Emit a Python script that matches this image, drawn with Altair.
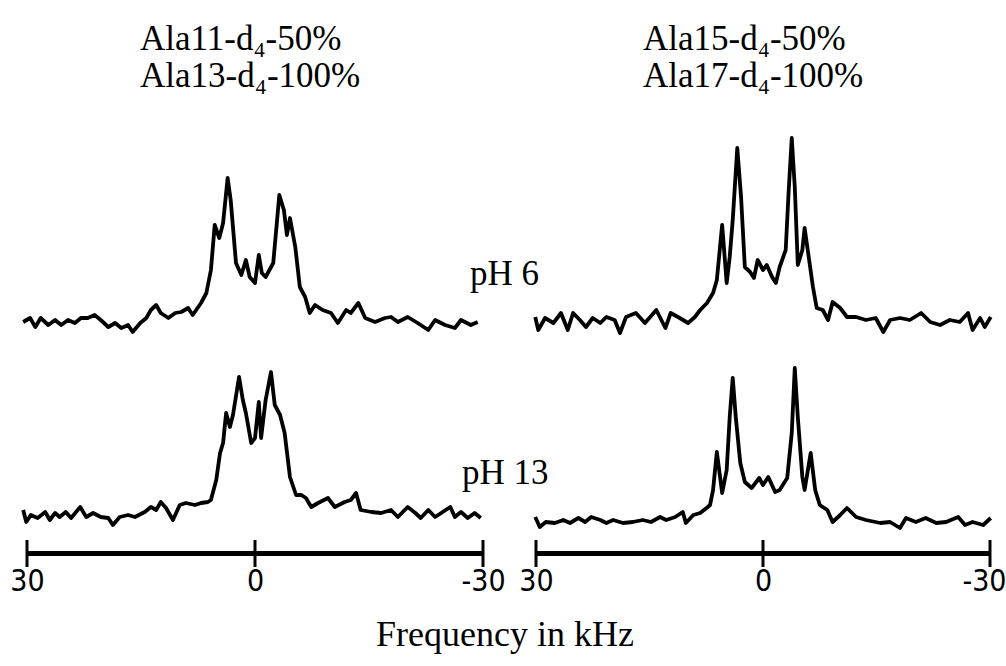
import altair as alt
import pandas as pd

# ---------------- data ----------------
TICKS = [30, 0, -30]

COL_TITLES = [["Ala11-d₄-50%", "Ala13-d₄-100%"],
              ["Ala15-d₄-50%", "Ala17-d₄-100%"]]
ROW_LABELS = ["pH 6", "pH 13"]
X_TITLE = "Frequency in kHz"

# left column, pH 6
L6_FREQ = [30.5, 29.6, 28.9, 28.2, 27.2, 26.3, 25.5, 24.6, 23.7, 22.9, 22.0, 21.1, 20.3, 19.3, 18.4,
           17.6, 16.7, 16.1, 15.1, 14.3, 13.7, 13.0, 12.4, 11.4, 10.5, 9.7, 8.8, 8.2, 7.1, 6.4,
           5.8, 5.3, 4.7, 4.2, 3.6, 3.2, 2.5, 1.8, 1.2, 0.7, 0.0, -0.5, -0.9, -1.4, -2.4,
           -3.2, -3.8, -4.2, -4.6, -5.3, -5.9, -6.6, -7.2, -7.9, -8.9, -10.0, -10.9, -12.0, -12.6, -13.6,
           -14.5, -15.8, -17.1, -17.9, -18.8, -20.1, -21.4, -22.8, -23.7, -25.0, -26.3, -27.1, -28.4, -29.3]
L6_INT = [0, 4, -5, 4, -3, 2, -3, 2, -1, 4, 4, 7, 2, -5, -1,
          -6, -3, -10, -1, 4, 12, 17, 9, 4, 9, 10, 14, 7, 19, 29,
          52, 97, 84, 99, 144, 122, 59, 47, 62, 45, 39, 67, 49, 45, 59,
          127, 112, 87, 104, 75, 35, 25, 9, 17, 12, 9, -1, 12, 9, 19,
          4, 0, 4, 5, 0, 5, -1, -8, 2, -3, -6, 2, -3, 0]

# left column, pH 13
L13_FREQ = [30.5, 30.1, 29.5, 28.6, 27.6, 27.0, 26.3, 25.7, 24.9, 24.2, 23.0, 22.2, 21.3, 20.3, 19.3,
            18.7, 17.8, 16.7, 15.8, 14.5, 13.7, 13.0, 12.4, 11.7, 10.8, 9.9, 9.1, 7.9, 7.1, 6.2,
            5.8, 5.1, 4.6, 4.2, 3.8, 3.3, 2.9, 2.1, 1.6, 1.2, 0.5, 0.0, -0.5, -0.8, -1.4,
            -2.1, -2.6, -3.3, -3.9, -4.6, -5.4, -6.1, -6.7, -7.4, -8.3, -9.6, -10.5, -11.8, -12.6, -13.3,
            -13.9, -15.3, -16.6, -17.9, -18.8, -20.1, -21.1, -21.8, -22.8, -23.7, -24.5, -25.7, -26.3, -27.1, -28.0,
            -28.9, -29.7]
L13_INT = [7, -5, 2, -1, 5, -3, 4, 0, 5, -1, 10, 0, 4, 0, -1,
           -8, 0, 2, 0, 5, 10, 7, 15, 9, -3, 12, 14, 12, 14, 15,
           17, 37, 64, 74, 104, 90, 102, 140, 117, 104, 74, 79, 115, 79, 117,
           145, 112, 102, 84, 40, 22, 22, 19, 10, 14, 19, 10, 15, 17, 24,
           7, 5, 4, 7, 0, 10, 4, -1, 7, 0, 4, 10, 0, 5, -1,
           4, -1]

# right column, pH 6
R6_FREQ = [30.1, 29.7, 28.8, 27.7, 26.7, 25.8, 25.1, 24.2, 23.4, 22.5, 21.5, 20.7, 19.6, 18.9, 18.1,
           16.8, 15.6, 14.1, 12.9, 12.2, 11.0, 9.9, 9.0, 8.3, 7.4, 6.6, 6.1, 5.4, 4.8, 4.4,
           4.0, 3.4, 2.9, 2.4, 1.7, 1.2, 0.7, 0.0, -0.5, -1.2, -1.7, -2.2, -3.0, -3.4, -3.8,
           -4.2, -4.6, -5.2, -5.5, -6.1, -6.6, -7.1, -7.9, -8.6, -9.2, -10.2, -11.1, -12.3, -13.6, -14.9,
           -15.9, -16.8, -18.1, -19.4, -20.9, -22.1, -23.4, -24.7, -26.0, -27.1, -27.7, -28.7, -29.3, -30.1]
R6_INT = [3, -10, 2, -3, 7, -10, 7, 0, -7, 2, -3, 3, 0, -13, 3,
          7, -3, 10, -8, 7, 2, -3, 3, 10, 17, 27, 40, 95, 37, 63,
          100, 172, 123, 53, 48, 42, 60, 50, 55, 43, 37, 53, 70, 130, 182,
          133, 55, 70, 92, 60, 33, 12, 10, 0, 18, 12, 3, 3, 0, 2,
          -12, 0, 2, 0, 7, -2, -5, 0, -2, 7, -10, 2, -7, 3]

# right column, pH 13
R13_FREQ = [30.1, 29.5, 28.7, 27.5, 26.4, 25.5, 24.4, 23.5, 22.7, 21.5, 20.7, 19.8, 18.5, 17.2, 15.9,
            14.8, 13.6, 12.8, 11.6, 10.6, 10.2, 9.2, 8.3, 7.3, 7.0, 6.6, 6.1, 5.4, 4.8, 4.4,
            4.0, 3.6, 3.0, 2.4, 1.5, 0.5, 0.0, -0.7, -1.6, -2.2, -3.2, -3.8, -4.2, -4.6, -5.2,
            -5.5, -6.3, -6.9, -7.5, -8.5, -9.2, -10.2, -11.1, -12.3, -13.6, -15.5, -16.8, -18.1, -18.9, -20.2,
            -21.5, -22.9, -24.2, -25.8, -26.7, -27.7, -29.1, -30.1]
R13_INT = [5, -5, 0, -1, 2, -1, 4, 0, 5, 2, -1, 2, -1, 0, 2,
           0, 5, 2, 5, 10, -1, 7, 9, 15, 17, 32, 70, 29, 52, 105,
           144, 105, 59, 40, 34, 44, 37, 45, 30, 32, 44, 89, 154, 105, 45,
           32, 69, 32, 17, 12, 0, 7, 14, 5, 2, -1, 0, -6, 4, 0,
           4, -1, 0, 5, -3, 0, -3, 4]


def frame(row, freq, inten):
    assert len(freq) == len(inten)
    return pd.DataFrame({"row": row, "freq": freq, "intensity": inten})


left_df = pd.concat([frame("pH 6", L6_FREQ, L6_INT), frame("pH 13", L13_FREQ, L13_INT)])
right_df = pd.concat([frame("pH 6", R6_FREQ, R6_INT), frame("pH 13", R13_FREQ, R13_INT)])
tick_df = pd.DataFrame({"freq": TICKS})

H = 553
SERIF = "Liberation Serif, Times New Roman, serif"
SANS = "DejaVu Sans Condensed, Liberation Sans Narrow, DejaVu Sans, sans-serif"


def text_layer(txt, x, y, size, align="left"):
    return alt.Chart(pd.DataFrame({"t": [txt]})).mark_text(
        font=SERIF, fontSize=size, align=align, baseline="alphabetic", color="black"
    ).encode(x=alt.value(x), y=alt.value(y), text="t:N")


def anchor(x, y):
    return alt.Chart(pd.DataFrame({"a": [0]})).mark_rule(color="white", strokeWidth=1).encode(
        x=alt.value(x), y=alt.value(y), y2=alt.value(y + 1)
    )


def panel(df, width, off6, off13, titles, title_x, extra, last_flush=False):
    axis_kw = dict(
        values=TICKS, labelExpr="datum.value + ''", ticks=False, grid=False,
        domainWidth=5, domainColor="black", domainCap="butt",
        labelFont=SANS, labelFontSize=30, labelColor="black", labelPadding=13,
        labelFlush=False, labelOverlap=False, title=None,
    )
    if last_flush:
        axis_kw["labelAlign"] = {"condition": {"test": "datum.value == -30", "value": "right"},
                                 "value": "center"}
        axis_kw["labelOffset"] = {"condition": {"test": "datum.value == -30", "value": 16},
                                  "value": 0}
    xenc = alt.X(
        "freq:Q",
        scale=alt.Scale(domain=[30, -30], nice=False, zero=False),
        axis=alt.Axis(**axis_kw),
    )
    lines = alt.Chart(df).transform_calculate(
        yv=f"datum.intensity + (datum.row == 'pH 6' ? {off6} : {off13})"
    ).mark_line(color="black", strokeWidth=3.8, strokeJoin="round").encode(
        x=xenc,
        y=alt.Y("yv:Q", scale=alt.Scale(domain=[0, H], nice=False, zero=False), axis=None),
        detail="row:N",
    )
    ticks = alt.Chart(tick_df).mark_rule(color="black", strokeWidth=3).encode(
        x="freq:Q", y=alt.value(540), y2=alt.value(567)
    )
    layers = [lines, ticks,
              text_layer(titles[0], title_x, 50, 35),
              text_layer(titles[1], title_x, 87, 35)] + extra
    return alt.layer(*layers).properties(width=width, height=H)


left = panel(left_df, 456, 231, 36, COL_TITLES[0], 113, [
    text_layer(ROW_LABELS[0], 443, 285, 35),
    text_layer(ROW_LABELS[1], 435, 484, 35),
    text_layer(X_TITLE, 478, 646, 36, align="center"),
    anchor(-26.5, 0.5),
])
right = panel(right_df, 454, 233, 31, COL_TITLES[1], 107, [
    anchor(469.5, 664.5),
], last_flush=True)

chart = alt.hconcat(left, right, spacing=53, bounds="flush").properties(
    padding=0, background="white"
).configure_view(strokeWidth=0)

chart.save("out.html", embed_options={"renderer": "svg", "actions": False})
